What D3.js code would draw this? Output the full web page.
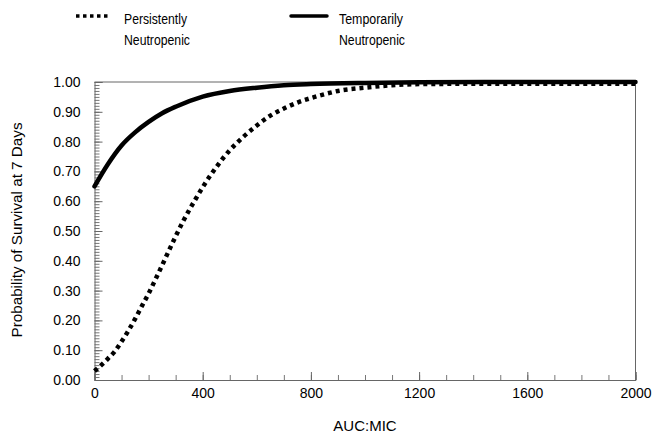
<!DOCTYPE html>
<html>
<head>
<meta charset="utf-8">
<script src="https://cdnjs.cloudflare.com/ajax/libs/d3/7.8.5/d3.min.js"></script>
<style>
body { margin: 0; background: #fff; }
text { font-family: "Liberation Sans", Arial, sans-serif; }
</style>
</head>
<body>
<script>
// survival probability
var persistentAuc = [0, 25, 50, 75, 100, 125, 150, 175, 200, 225, 250, 275, 300, 325, 350, 375, 400,
                     450, 500, 550, 600, 650, 700, 750, 800, 850, 900, 1000, 1100, 1200, 1400, 1600, 2000];
var persistentP = [0.03, 0.05, 0.072, 0.096, 0.129, 0.165, 0.205, 0.248, 0.29, 0.337, 0.385, 0.434, 0.482,
                   0.528, 0.57, 0.609, 0.647, 0.714, 0.771, 0.816, 0.854, 0.887, 0.911, 0.931, 0.946,
                   0.959, 0.97, 0.981, 0.989, 0.993, 0.994, 0.994, 0.994];
var temporaryAuc = [0, 50, 100, 150, 200, 250, 300, 400, 500, 600, 700, 800, 1000, 1200, 1600, 2000];
var temporaryP = [0.65, 0.725, 0.787, 0.831, 0.866, 0.895, 0.917, 0.951, 0.97, 0.981, 0.989, 0.993,
                  0.997, 0.999, 1.0, 1.0];
var yTicks = [0, 0.1, 0.2, 0.3, 0.4, 0.5, 0.6, 0.7, 0.8, 0.9, 1.0];
var xTicks = [0, 400, 800, 1200, 1600, 2000];

var W = 654, H = 434;
var plotLeft = 94.5, plotRight = 635.5, plotTop = 82, plotBottom = 380;

var svg = d3.select("body").append("svg")
    .attr("width", W)
    .attr("height", H);

var x = d3.scaleLinear().domain([0, 2000]).range([plotLeft, plotRight]);
var y = d3.scaleLinear().domain([0, 1]).range([plotBottom, plotTop]);

function pairs(xs, ys) {
    return xs.map(function(d, i) { return [d, ys[i]]; });
}

// frame top and right
svg.append("line")
    .attr("x1", plotLeft).attr("x2", plotRight).attr("y1", plotTop).attr("y2", plotTop)
    .style("stroke", "#666");
svg.append("line")
    .attr("x1", plotRight).attr("x2", plotRight).attr("y1", plotTop).attr("y2", plotBottom)
    .style("stroke", "#666");

// minor ticks
svg.append("g")
    .attr("transform", "translate(" + plotLeft + ",0)")
    .call(d3.axisLeft(y).tickValues(d3.range(0, 101).map(function(i) { return i / 100; }))
        .tickSize(-5).tickFormat(""))
    .call(function(g) { g.select(".domain").remove(); })
    .selectAll("line").style("stroke", "#777");
svg.append("g")
    .attr("transform", "translate(0," + plotBottom + ")")
    .call(d3.axisBottom(x).tickValues(d3.range(0, 2001, 100)).tickSize(-5).tickFormat(""))
    .call(function(g) { g.select(".domain").remove(); })
    .selectAll("line").style("stroke", "#777");

// major axes
var yAxis = svg.append("g")
    .attr("transform", "translate(" + plotLeft + ",0)")
    .call(d3.axisLeft(y).tickValues(yTicks).tickSize(-8).tickPadding(14).tickFormat(d3.format(".2f")));
var xAxis = svg.append("g")
    .attr("transform", "translate(0," + plotBottom + ")")
    .call(d3.axisBottom(x).tickValues(xTicks).tickSize(-8).tickPadding(8).tickFormat(d3.format("d")));

[yAxis, xAxis].forEach(function(g) {
    g.selectAll("line").style("stroke", "#666");
    g.select(".domain").style("stroke", "#666");
    g.selectAll("text").style("font-size", "14px").style("fill", "#000");
});

var line = d3.line()
    .x(function(d) { return x(d[0]); })
    .y(function(d) { return y(d[1]); })
    .curve(d3.curveMonotoneX);

svg.append("path")
    .datum(pairs(persistentAuc, persistentP))
    .attr("d", line)
    .style("fill", "none")
    .style("stroke", "#000")
    .style("stroke-width", 4.5)
    .style("stroke-dasharray", "4,4");

svg.append("path")
    .datum(pairs(temporaryAuc, temporaryP))
    .attr("d", line)
    .style("fill", "none")
    .style("stroke", "#000")
    .style("stroke-width", 4.5)
    .style("stroke-linecap", "round");

// axis titles
svg.append("text")
    .attr("x", (plotLeft + plotRight) / 2)
    .attr("y", 431)
    .attr("text-anchor", "middle")
    .style("font-size", "15px")
    .text("AUC:MIC");
svg.append("text")
    .attr("transform", "translate(22,230) rotate(-90)")
    .attr("text-anchor", "middle")
    .attr("textLength", 215)
    .attr("lengthAdjust", "spacingAndGlyphs")
    .style("font-size", "15px")
    .text("Probability of Survival at 7 Days");

// legend
var legend = [
    {name: ["Persistently", "Neutropenic"], len: [63, 66], x0: 76, x1: 109, tx: 124, dash: "3.5,3.5", cap: "butt"},
    {name: ["Temporarily", "Neutropenic"], len: [64, 66], x0: 291, x1: 327, tx: 339, dash: null, cap: "round"}
];
legend.forEach(function(l) {
    svg.append("line")
        .attr("x1", l.x0).attr("x2", l.x1).attr("y1", 16).attr("y2", 16)
        .style("stroke", "#000")
        .style("stroke-width", 3.5)
        .style("stroke-linecap", l.cap)
        .style("stroke-dasharray", l.dash);
    l.name.forEach(function(t, i) {
        svg.append("text")
            .attr("x", l.tx)
            .attr("y", 24 + i * 21)
            .attr("textLength", l.len[i])
            .attr("lengthAdjust", "spacingAndGlyphs")
            .style("font-size", "14px")
            .text(t);
    });
});
</script>
</body>
</html>
